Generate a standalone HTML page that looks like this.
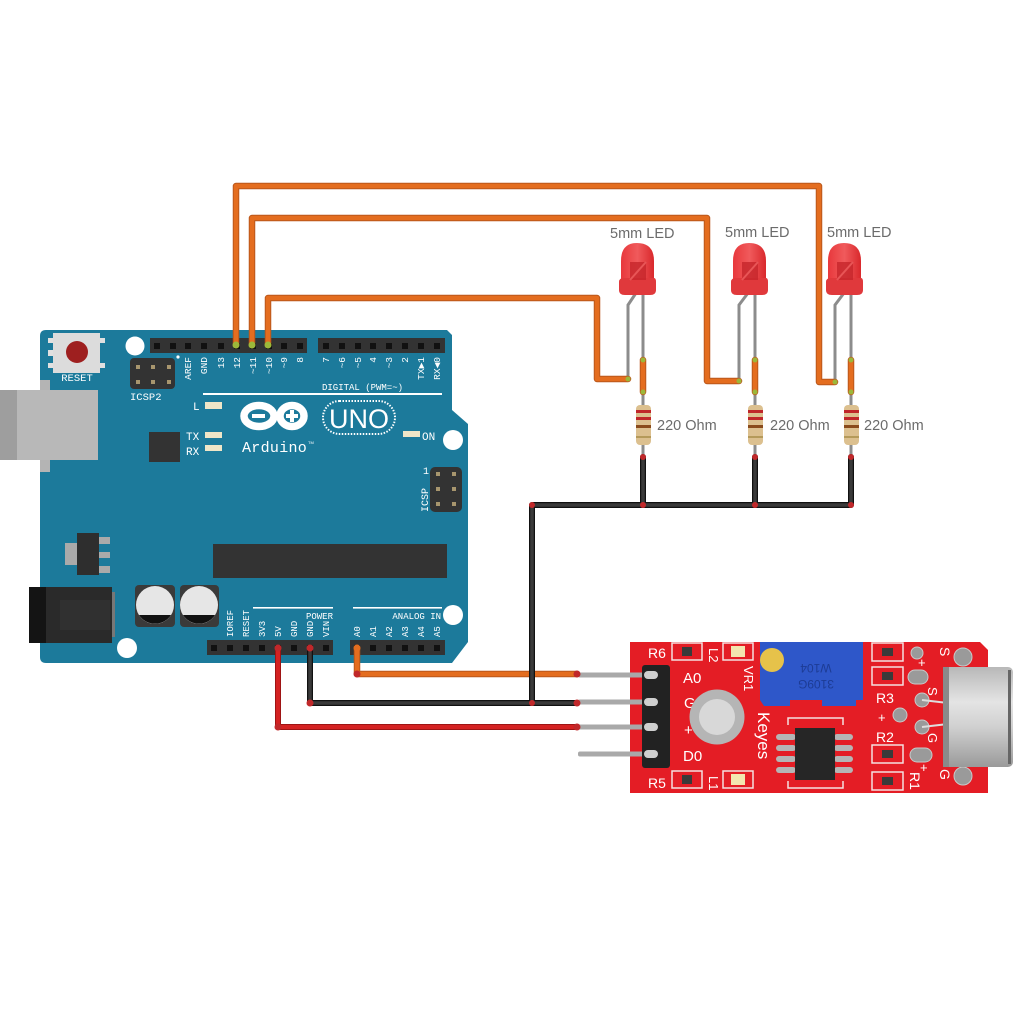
<!DOCTYPE html>
<html><head><meta charset="utf-8"><style>
html,body{margin:0;padding:0;background:#fff;}
svg{display:block;}
</style></head><body>
<svg width="1024" height="1024" viewBox="0 0 1024 1024" xmlns="http://www.w3.org/2000/svg">
<defs>
<linearGradient id="mic" x1="0" y1="0" x2="0" y2="1">
<stop offset="0" stop-color="#b8b8b8"/><stop offset="0.35" stop-color="#e4e4e4"/><stop offset="0.6" stop-color="#d0d0d0"/><stop offset="1" stop-color="#9a9a9a"/>
</linearGradient>
<linearGradient id="ledg" x1="0" y1="0" x2="1" y2="0">
<stop offset="0" stop-color="#e8383c"/><stop offset="0.5" stop-color="#f05a5c"/><stop offset="1" stop-color="#d9282c"/>
</linearGradient>
</defs>
<rect width="1024" height="1024" fill="#fff"/>

<!-- ARDUINO BOARD -->
<path d="M46,330 L447,330 L452,335 L452,410 L468,424 L468,642 L452,663 L46,663 Q40,663 40,657 L40,336 Q40,330 46,330 Z" fill="#1c7a9b"/>
<!-- USB -->
<rect x="40" y="380" width="10" height="92" fill="#b4b4b4"/>
<rect x="0" y="390" width="98" height="70" fill="#b8b8b8"/>
<rect x="0" y="390" width="17" height="70" fill="#9e9e9e"/>
<!-- reset button -->
<rect x="48" y="338" width="6" height="5" fill="#e0e0e0"/><rect x="48" y="350" width="6" height="6" fill="#e0e0e0"/><rect x="48" y="363" width="6" height="5" fill="#e0e0e0"/>
<rect x="99" y="338" width="6" height="5" fill="#e0e0e0"/><rect x="99" y="363" width="6" height="5" fill="#e0e0e0"/>
<rect x="53" y="333" width="47" height="40" fill="#dcdcdc"/>
<circle cx="77" cy="352" r="11" fill="#9e1f1f"/>
<text x="77" y="381" font-family="Liberation Mono, monospace" font-size="10.5" fill="#fff" text-anchor="middle">RESET</text>
<!-- mounting holes -->
<circle cx="135" cy="346" r="9.5" fill="#fff"/>
<circle cx="453" cy="440" r="10" fill="#fff"/>
<circle cx="453" cy="615" r="10" fill="#fff"/>
<circle cx="127" cy="648" r="10" fill="#fff"/>
<!-- ICSP2 -->
<rect x="130" y="358" width="45" height="31" rx="4" fill="#333"/>
<g fill="#a8966e"><rect x="136" y="365" width="4" height="4"/><rect x="151" y="365" width="4" height="4"/><rect x="167" y="365" width="4" height="4"/><rect x="136" y="380" width="4" height="4"/><rect x="151" y="380" width="4" height="4"/><rect x="167" y="380" width="4" height="4"/></g>
<circle cx="178" cy="357" r="1.6" fill="#fff"/>
<text x="130" y="400" font-family="Liberation Mono, monospace" font-size="10.5" fill="#fff">ICSP2</text>
<!-- top headers -->
<rect x="150" y="338" width="157" height="15" fill="#333"/>
<rect x="318" y="338" width="127" height="15" fill="#333"/>
<g fill="#111">
<rect x="154" y="343" width="6" height="6"/><rect x="170" y="343" width="6" height="6"/><rect x="185" y="343" width="6" height="6"/><rect x="201" y="343" width="6" height="6"/><rect x="218" y="343" width="6" height="6"/><rect x="234" y="343" width="6" height="6"/><rect x="250" y="343" width="6" height="6"/><rect x="266" y="343" width="6" height="6"/><rect x="281" y="343" width="6" height="6"/><rect x="297" y="343" width="6" height="6"/>
<rect x="323" y="343" width="6" height="6"/><rect x="339" y="343" width="6" height="6"/><rect x="355" y="343" width="6" height="6"/><rect x="370" y="343" width="6" height="6"/><rect x="386" y="343" width="6" height="6"/><rect x="402" y="343" width="6" height="6"/><rect x="418" y="343" width="6" height="6"/><rect x="434" y="343" width="6" height="6"/>
</g>
<g font-family="Liberation Mono, monospace" font-size="9.5" fill="#fff" text-anchor="end">
<text transform="translate(191,357) rotate(-90)">AREF</text>
<text transform="translate(207,357) rotate(-90)">GND</text>
<text transform="translate(224,357) rotate(-90)">13</text>
<text transform="translate(240,357) rotate(-90)">12</text>
<text transform="translate(256,357) rotate(-90)">~11</text>
<text transform="translate(272,357) rotate(-90)">~10</text>
<text transform="translate(287,357) rotate(-90)">~9</text>
<text transform="translate(303,357) rotate(-90)">8</text>
<text transform="translate(329,357) rotate(-90)">7</text>
<text transform="translate(345,357) rotate(-90)">~6</text>
<text transform="translate(361,357) rotate(-90)">~5</text>
<text transform="translate(376,357) rotate(-90)">4</text>
<text transform="translate(392,357) rotate(-90)">~3</text>
<text transform="translate(408,357) rotate(-90)">2</text>
<text transform="translate(424,357) rotate(-90)">TX▶1</text>
<text transform="translate(440,357) rotate(-90)">RX◀0</text>
</g>
<text x="322" y="390" font-family="Liberation Mono, monospace" font-size="9" fill="#fff">DIGITAL (PWM=~)</text>
<rect x="203" y="393" width="239" height="2" fill="#fff"/>
<!-- board leds -->
<text x="193" y="410" font-family="Liberation Mono, monospace" font-size="11" fill="#fff">L</text>
<rect x="205" y="402" width="17" height="7" fill="#efe6c8"/>
<text x="186" y="440" font-family="Liberation Mono, monospace" font-size="11" fill="#fff">TX</text>
<rect x="205" y="432" width="17" height="6" fill="#efe6c8"/>
<text x="186" y="455" font-family="Liberation Mono, monospace" font-size="11" fill="#fff">RX</text>
<rect x="205" y="445" width="17" height="6" fill="#efe6c8"/>
<rect x="403" y="431" width="17" height="6" fill="#efe6c8"/>
<text x="422" y="440" font-family="Liberation Mono, monospace" font-size="11" fill="#fff">ON</text>
<rect x="149" y="432" width="31" height="30" fill="#333"/>
<!-- logo -->
<ellipse cx="259" cy="416" rx="15" ry="10.5" fill="none" stroke="#fff" stroke-width="7.5"/>
<ellipse cx="292" cy="416" rx="12" ry="10.5" fill="none" stroke="#fff" stroke-width="7.5"/>
<rect x="252" y="414" width="13" height="4" fill="#fff"/>
<rect x="286" y="414" width="12" height="4" fill="#fff"/>
<rect x="290" y="410" width="4" height="12" fill="#fff"/>
<rect x="323" y="401" width="72" height="33" rx="16.5" fill="none" stroke="#fff" stroke-width="2" stroke-dasharray="1.5 1.5"/>
<text x="359" y="428" font-family="Liberation Sans, sans-serif" font-size="27" fill="#fff" text-anchor="middle">UNO</text>
<text x="242" y="452" font-family="Liberation Mono, monospace" font-size="15" fill="#fff" letter-spacing="0.3">Arduino</text>
<text x="308" y="444" font-family="Liberation Sans, sans-serif" font-size="4" fill="#fff">TM</text>
<!-- right ICSP -->
<rect x="430" y="467" width="32" height="45" rx="5" fill="#333"/>
<g fill="#a8966e"><rect x="436" y="472" width="4" height="4"/><rect x="452" y="472" width="4" height="4"/><rect x="436" y="487" width="4" height="4"/><rect x="452" y="487" width="4" height="4"/><rect x="436" y="502" width="4" height="4"/><rect x="452" y="502" width="4" height="4"/></g>
<text x="423" y="474" font-family="Liberation Mono, monospace" font-size="10" fill="#fff">1</text>
<text transform="translate(428,512) rotate(-90)" font-family="Liberation Mono, monospace" font-size="10" fill="#fff">ICSP</text>
<!-- regulator -->
<rect x="65" y="543" width="13" height="22" fill="#aaa"/>
<rect x="99" y="537" width="11" height="7" fill="#aaa"/><rect x="99" y="552" width="11" height="6" fill="#aaa"/><rect x="99" y="566" width="11" height="7" fill="#aaa"/>
<rect x="77" y="533" width="22" height="42" fill="#2e2e2e"/>
<!-- main chip -->
<rect x="213" y="544" width="234" height="34" fill="#333"/>
<!-- power jack -->
<rect x="112" y="592" width="3" height="45" fill="#777"/>
<rect x="29" y="587" width="83" height="56" fill="#2a2a2a"/>
<rect x="29" y="587" width="17" height="56" fill="#141414"/>
<rect x="60" y="600" width="50" height="30" fill="#303030"/>
<!-- capacitors -->
<rect x="135" y="585" width="40" height="42" rx="4" fill="#3a3a3a"/>
<rect x="180" y="585" width="39" height="42" rx="4" fill="#3a3a3a"/>
<circle cx="155" cy="605" r="19" fill="#e6e6e6"/>
<path d="M139,615 A19,19 0 0 0 171,615 Z" fill="#111"/>
<circle cx="199" cy="605" r="19" fill="#e6e6e6"/>
<path d="M183,615 A19,19 0 0 0 215,615 Z" fill="#111"/>
<!-- bottom headers -->
<rect x="253" y="607" width="80" height="1.6" fill="#fff"/>
<rect x="353" y="607" width="89" height="1.6" fill="#fff"/>
<text x="333" y="619" font-family="Liberation Mono, monospace" font-size="9" fill="#fff" text-anchor="end">POWER</text>
<text x="441" y="619" font-family="Liberation Mono, monospace" font-size="9" fill="#fff" text-anchor="end">ANALOG IN</text>
<rect x="207" y="640" width="126" height="15" fill="#333"/>
<rect x="350" y="640" width="95" height="15" fill="#333"/>
<g fill="#111">
<rect x="211" y="645" width="6" height="6"/><rect x="227" y="645" width="6" height="6"/><rect x="243" y="645" width="6" height="6"/><rect x="259" y="645" width="6" height="6"/><rect x="275" y="645" width="6" height="6"/><rect x="291" y="645" width="6" height="6"/><rect x="307" y="645" width="6" height="6"/><rect x="323" y="645" width="6" height="6"/>
<rect x="354" y="645" width="6" height="6"/><rect x="370" y="645" width="6" height="6"/><rect x="386" y="645" width="6" height="6"/><rect x="402" y="645" width="6" height="6"/><rect x="418" y="645" width="6" height="6"/><rect x="434" y="645" width="6" height="6"/>
</g>
<g font-family="Liberation Mono, monospace" font-size="9" fill="#fff">
<text transform="translate(233,637) rotate(-90)">IOREF</text>
<text transform="translate(249,637) rotate(-90)">RESET</text>
<text transform="translate(265,637) rotate(-90)">3V3</text>
<text transform="translate(281,637) rotate(-90)">5V</text>
<text transform="translate(297,637) rotate(-90)">GND</text>
<text transform="translate(313,637) rotate(-90)">GND</text>
<text transform="translate(329,637) rotate(-90)">VIN</text>
<text transform="translate(360,637) rotate(-90)">A0</text>
<text transform="translate(376,637) rotate(-90)">A1</text>
<text transform="translate(392,637) rotate(-90)">A2</text>
<text transform="translate(408,637) rotate(-90)">A3</text>
<text transform="translate(424,637) rotate(-90)">A4</text>
<text transform="translate(440,637) rotate(-90)">A5</text>
</g>

<!-- MIC MODULE -->
<path d="M630,642 L980,642 L988,650 L988,793 L630,793 Z" fill="#e41d25"/>
<!-- pins -->
<g fill="#a9a9a9">
<rect x="578" y="672.5" width="78" height="5" rx="2"/>
<rect x="578" y="699.5" width="78" height="5" rx="2"/>
<rect x="578" y="724.5" width="78" height="5" rx="2"/>
<rect x="578" y="751.5" width="78" height="5" rx="2"/>
</g>
<rect x="642" y="665" width="28" height="103" rx="3" fill="#222"/>
<g fill="#cfcfcf"><rect x="644" y="671" width="14" height="8" rx="4"/><rect x="644" y="698" width="14" height="8" rx="4"/><rect x="644" y="723" width="14" height="8" rx="4"/><rect x="644" y="750" width="14" height="8" rx="4"/></g>
<g font-family="Liberation Sans, sans-serif" font-size="15" fill="#fff">
<text x="683" y="683">A0</text>
<text x="684" y="708">G</text>
<text x="684" y="735">+</text>
<text x="683" y="761">D0</text>
<text x="648" y="658" font-size="14">R6</text>
<text x="648" y="788" font-size="14">R5</text>
</g>
<!-- smd boxes -->
<g fill="none" stroke="#f4e0e0" stroke-width="1.5">
<rect x="672" y="643" width="30" height="17"/><rect x="723" y="643" width="30" height="17"/>
<rect x="672" y="771" width="30" height="17"/><rect x="723" y="771" width="30" height="17"/>
<rect x="872" y="643" width="31" height="18"/><rect x="872" y="667" width="31" height="18"/>
<rect x="872" y="745" width="31" height="18"/><rect x="872" y="772" width="31" height="18"/>
<path d="M788,725 L788,718 L843,718 L843,725 M788,781 L788,788 L843,788 L843,781"/>
</g>
<g fill="#3a3a3a"><rect x="682" y="647" width="10" height="9"/><rect x="682" y="775" width="10" height="9"/><rect x="882" y="648" width="11" height="8"/><rect x="882" y="672" width="11" height="8"/><rect x="882" y="750" width="11" height="8"/><rect x="882" y="777" width="11" height="8"/></g>
<g fill="#f3e6b0"><rect x="731" y="646" width="14" height="11"/><rect x="731" y="774" width="14" height="11"/></g>
<g font-family="Liberation Sans, sans-serif" font-size="13" fill="#fff">
<text transform="translate(709,648) rotate(90)">L2</text>
<text transform="translate(709,776) rotate(90)">L1</text>
<text transform="translate(744,666) rotate(90)">VR1</text>
<text transform="translate(758,712) rotate(90)" font-size="17">Keyes</text>
<text x="876" y="703" font-size="14">R3</text>
<text x="876" y="742" font-size="14">R2</text>
<text transform="translate(910,772) rotate(90)" font-size="14">R1</text>
<text transform="translate(940,647) rotate(90)" font-size="14">S</text>
<text transform="translate(940,769) rotate(90)" font-size="14">G</text>
<text transform="translate(928,687) rotate(90)" font-size="13">S</text>
<text transform="translate(928,733) rotate(90)" font-size="13">G</text>
<text x="918" y="667" font-size="13">+</text>
<text x="878" y="722" font-size="13">+</text>
<text x="920" y="772" font-size="13">+</text>
</g>
<!-- mounting hole -->
<circle cx="717" cy="717" r="27.5" fill="#b5b5b5"/>
<circle cx="717" cy="717" r="18" fill="#d8d8d8"/>
<!-- pot -->
<path d="M760,642 L863,642 L863,700 L856,700 L856,706 L822,706 L822,700 L790,700 L790,706 L764,706 L760,700 Z" fill="#2e57c9"/>
<text x="0" y="0" font-family="Liberation Sans, sans-serif" font-size="12" fill="#1d3c95" text-anchor="middle" transform="translate(816,664) rotate(180)">W104</text>
<text x="0" y="0" font-family="Liberation Sans, sans-serif" font-size="12" fill="#1d3c95" text-anchor="middle" transform="translate(816,680) rotate(180)">3109G</text>
<circle cx="772" cy="660" r="12" fill="#e6c24a"/>
<!-- IC -->
<g fill="#b5b5b5"><rect x="776" y="734" width="20" height="6" rx="3"/><rect x="776" y="745" width="20" height="6" rx="3"/><rect x="776" y="756" width="20" height="6" rx="3"/><rect x="776" y="767" width="20" height="6" rx="3"/>
<rect x="834" y="734" width="19" height="6" rx="3"/><rect x="834" y="745" width="19" height="6" rx="3"/><rect x="834" y="756" width="19" height="6" rx="3"/><rect x="834" y="767" width="19" height="6" rx="3"/></g>
<rect x="795" y="728" width="40" height="52" fill="#262626"/>
<!-- pads -->
<g fill="#9a9a9a" stroke="#c9c9c9" stroke-width="1">
<circle cx="917" cy="653" r="6"/>
<circle cx="963" cy="657" r="9"/>
<rect x="908" y="670" width="20" height="14" rx="7"/>
<circle cx="900" cy="715" r="7"/>
<circle cx="922" cy="700" r="7"/>
<circle cx="922" cy="727" r="7"/>
<rect x="910" y="748" width="22" height="14" rx="7"/>
<circle cx="963" cy="776" r="9"/>
</g>
<path d="M922,700 L948,703 M922,727 L948,724" stroke="#ddd" stroke-width="2"/>
<!-- mic capsule -->
<rect x="943" y="667" width="70" height="100" rx="5" fill="url(#mic)"/>
<rect x="943" y="667" width="6" height="100" fill="#8a8a8a"/>
<rect x="1008" y="670" width="3" height="94" fill="#666"/>

<!-- LEDs -->
<g>
<path d="M636,293 L628,305 L628,380" fill="none" stroke="#8c8c8c" stroke-width="3"/>
<path d="M643,293 L643,405" fill="none" stroke="#8c8c8c" stroke-width="3"/>
<path d="M643,445 L643,457" fill="none" stroke="#8c8c8c" stroke-width="3"/>
<path d="M621,294 L621,261 Q621,243 637,243 Q654,243 654,261 L654,294 Z" fill="url(#ledg)"/>
<path d="M619,282 Q619,278 624,278 L654,278 Q656,278 656,282 L656,290 Q656,295 650,295 L625,295 Q619,295 619,290 Z" fill="#e0393c"/>
<path d="M630,262 L646,262 L646,280 L630,280 Z" fill="#c6262b" opacity="0.8"/>
<path d="M630,280 L646,262" stroke="#e85556" stroke-width="2"/>
</g>
<g>
<path d="M748,293 L739,305 L739,381" fill="none" stroke="#8c8c8c" stroke-width="3"/>
<path d="M755,293 L755,405" fill="none" stroke="#8c8c8c" stroke-width="3"/>
<path d="M755,445 L755,457" fill="none" stroke="#8c8c8c" stroke-width="3"/>
<path d="M733,294 L733,261 Q733,243 749,243 Q766,243 766,261 L766,294 Z" fill="url(#ledg)"/>
<path d="M731,282 Q731,278 736,278 L766,278 Q768,278 768,282 L768,290 Q768,295 762,295 L737,295 Q731,295 731,290 Z" fill="#e0393c"/>
<path d="M742,262 L758,262 L758,280 L742,280 Z" fill="#c6262b" opacity="0.8"/>
<path d="M742,280 L758,262" stroke="#e85556" stroke-width="2"/>
</g>
<g>
<path d="M844,293 L835,305 L835,383" fill="none" stroke="#8c8c8c" stroke-width="3"/>
<path d="M851,293 L851,405" fill="none" stroke="#8c8c8c" stroke-width="3"/>
<path d="M851,445 L851,457" fill="none" stroke="#8c8c8c" stroke-width="3"/>
<path d="M828,294 L828,261 Q828,243 844,243 Q861,243 861,261 L861,294 Z" fill="url(#ledg)"/>
<path d="M826,282 Q826,278 831,278 L861,278 Q863,278 863,282 L863,290 Q863,295 857,295 L832,295 Q826,295 826,290 Z" fill="#e0393c"/>
<path d="M837,262 L853,262 L853,280 L837,280 Z" fill="#c6262b" opacity="0.8"/>
<path d="M837,280 L853,262" stroke="#e85556" stroke-width="2"/>
</g>
<g font-family="Liberation Sans, sans-serif" font-size="14.5" fill="#6b6b6b">
<text x="610" y="238">5mm LED</text>
<text x="725" y="237">5mm LED</text>
<text x="827" y="237">5mm LED</text>
<text x="657" y="430">220 Ohm</text>
<text x="770" y="430">220 Ohm</text>
<text x="864" y="430">220 Ohm</text>
</g>
<!-- resistors -->
<g>
<rect x="636" y="405" width="15" height="40" rx="4" fill="#dcc08f"/>
<rect x="636" y="410" width="15" height="3" fill="#c0262a"/><rect x="636" y="417" width="15" height="3" fill="#c0262a"/><rect x="636" y="425" width="15" height="3" fill="#8a4b1c"/><rect x="636" y="436" width="15" height="2" fill="#b59a5a"/>
<rect x="748" y="405" width="15" height="40" rx="4" fill="#dcc08f"/>
<rect x="748" y="410" width="15" height="3" fill="#c0262a"/><rect x="748" y="417" width="15" height="3" fill="#c0262a"/><rect x="748" y="425" width="15" height="3" fill="#8a4b1c"/><rect x="748" y="436" width="15" height="2" fill="#b59a5a"/>
<rect x="844" y="405" width="15" height="40" rx="4" fill="#dcc08f"/>
<rect x="844" y="410" width="15" height="3" fill="#c0262a"/><rect x="844" y="417" width="15" height="3" fill="#c0262a"/><rect x="844" y="425" width="15" height="3" fill="#8a4b1c"/><rect x="844" y="436" width="15" height="2" fill="#b59a5a"/>
</g>

<!-- WIRES -->
<g fill="none" stroke-linejoin="round" stroke-linecap="round">
<g stroke="#b9561a" stroke-width="6.5">
<path d="M236,345 L236,186 L819,186 L819,382 L835,382"/>
<path d="M252,345 L252,218 L707,218 L707,381 L739,381"/>
<path d="M268,345 L268,298 L597,298 L597,379 L628,379"/>
<path d="M643,360 L643,392 M755,360 L755,392 M851,360 L851,392"/>
<path d="M357,648 L357,674 L577,674"/>
</g>
<g stroke="#e46d1f" stroke-width="4.5">
<path d="M236,345 L236,186 L819,186 L819,382 L835,382"/>
<path d="M252,345 L252,218 L707,218 L707,381 L739,381"/>
<path d="M268,345 L268,298 L597,298 L597,379 L628,379"/>
<path d="M643,360 L643,392 M755,360 L755,392 M851,360 L851,392"/>
<path d="M357,648 L357,674 L577,674"/>
</g>
<g stroke="#111" stroke-width="6">
<path d="M643,457 L643,505 M755,457 L755,505 M851,457 L851,505 M532,505 L851,505 M532,505 L532,703"/>
<path d="M310,648 L310,703 L577,703"/>
</g>
<g stroke="#3a3a3a" stroke-width="3.5">
<path d="M643,457 L643,505 M755,457 L755,505 M851,457 L851,505 M532,505 L851,505 M532,505 L532,703"/>
<path d="M310,648 L310,703 L577,703"/>
</g>
<g stroke="#9e1414" stroke-width="6"><path d="M278,648 L278,727 L577,727"/></g>
<g stroke="#d42222" stroke-width="4"><path d="M278,648 L278,727 L577,727"/></g>
</g>
<!-- wire end dots -->
<g fill="#9cb83a">
<circle cx="236" cy="345" r="3.5"/><circle cx="252" cy="345" r="3.5"/><circle cx="268" cy="345" r="3.5"/>
<circle cx="628" cy="379" r="2.5"/><circle cx="739" cy="381" r="2.5"/><circle cx="835" cy="382" r="2.5"/>
<circle cx="643" cy="360" r="2.5"/><circle cx="755" cy="360" r="2.5"/><circle cx="851" cy="360" r="2.5"/>
<circle cx="643" cy="392" r="2.5"/><circle cx="755" cy="392" r="2.5"/><circle cx="851" cy="392" r="2.5"/>
</g>
<g fill="#c0282a">
<circle cx="643" cy="457" r="3"/><circle cx="755" cy="457" r="3"/><circle cx="851" cy="457" r="3"/>
<circle cx="643" cy="505" r="3"/><circle cx="755" cy="505" r="3"/><circle cx="851" cy="505" r="3"/><circle cx="532" cy="505" r="3"/>
<circle cx="532" cy="703" r="3"/><circle cx="577" cy="674" r="3.5"/><circle cx="577" cy="703" r="3.5"/><circle cx="577" cy="727" r="3.5"/>
<circle cx="278" cy="648" r="3.5"/><circle cx="310" cy="648" r="3.5"/><circle cx="357" cy="648" r="3.5" fill="#e46d1f"/>
<circle cx="278" cy="727" r="3.5"/><circle cx="310" cy="703" r="3.5"/><circle cx="357" cy="674" r="3.5"/>
</g>
</svg>
</body></html>
